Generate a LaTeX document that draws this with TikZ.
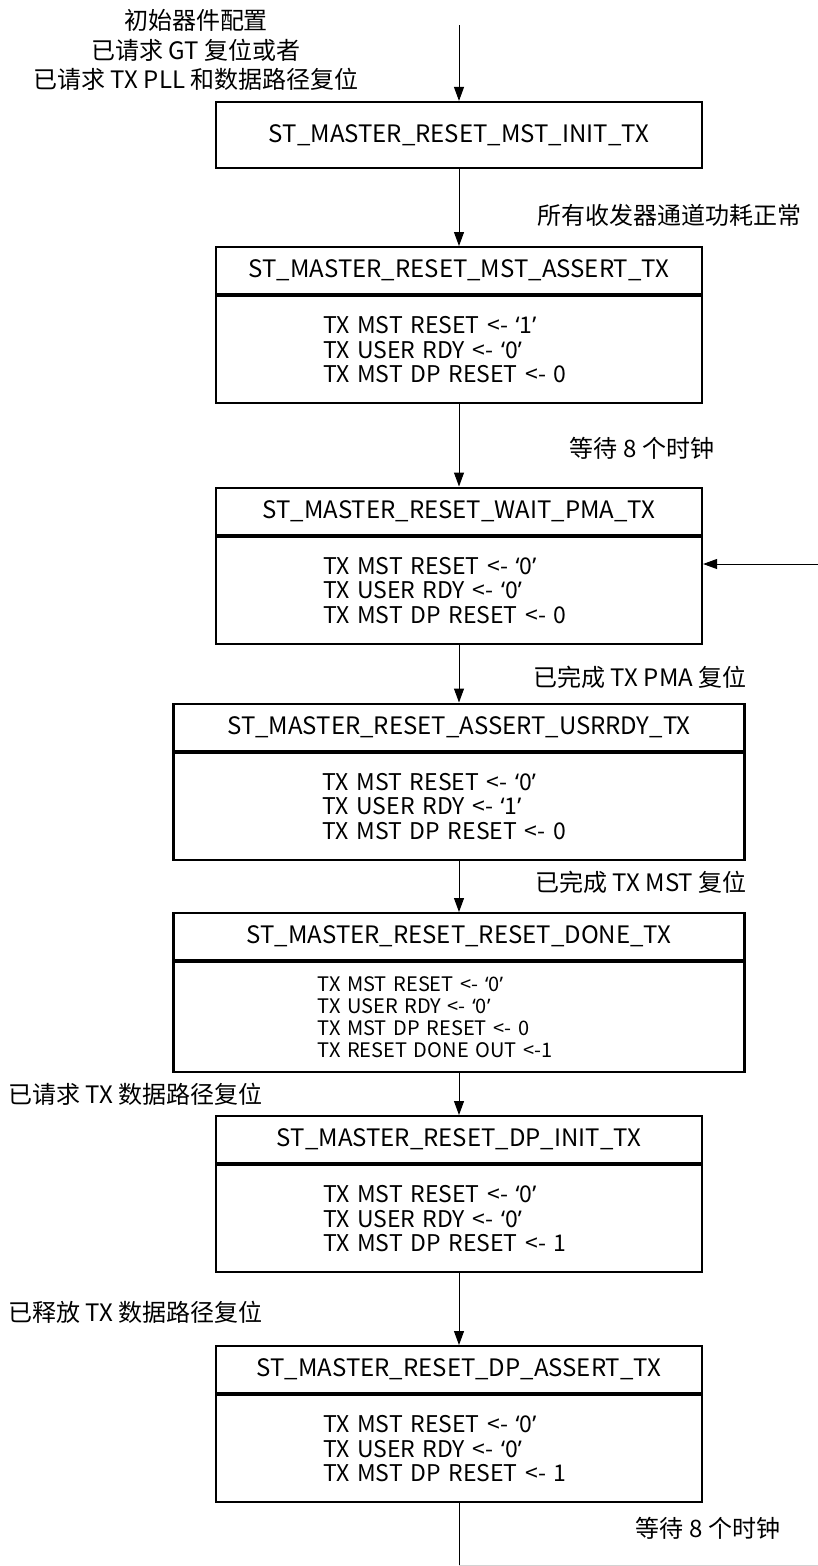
\documentclass[tikz,border=0pt]{standalone}
\usepackage{fontspec}
\setmainfont{Noto Sans CJK SC}
\newfontfamily\qfont{Noto Sans}
\usetikzlibrary{arrows.meta,positioning}
\newcommand\lsq{{\qfont\symbol{"2018}}}
\newcommand\rsq{{\qfont\symbol{"2019}}}

\tikzset{
  hdr/.style={draw, line width=2.2pt, minimum width=486pt, minimum height=47pt,
    inner sep=0pt, font=\fontsize{24}{28}\selectfont},
  bdy/.style={draw, line width=2.2pt, minimum height=107pt, inner ysep=0pt,
    inner xsep=107pt, text width=272pt, align=left, font=\fontsize{23}{24.5}\selectfont},
  widehdr/.style={hdr, minimum width=571pt},
  widebdy/.style={bdy, inner xsep=149pt, text width=273pt},
  donebdy/.style={bdy, inner xsep=144pt, text width=283pt, minimum height=110pt,
    font=\fontsize{20}{22}\selectfont},
  lbl/.style={font=\fontsize{24}{29.5}\selectfont, inner sep=0pt},
  flow/.style={-{Triangle[length=14pt,width=10pt]}, line width=1pt}
}

\begin{document}
\begin{tikzpicture}[x=1pt, y=-1pt]
    \useasboundingbox (0,0) rectangle (818,1566);

    % states
    \node[hdr, minimum height=66pt] (init) at (459,135) {ST\_MASTER\_RESET\_MST\_INIT\_TX};

    \node[hdr, anchor=north] (mst) at (459,246) {ST\_MASTER\_RESET\_MST\_ASSERT\_TX};
    \node[bdy, below=0pt of mst] (mstb) {TX MST RESET <- \lsq1\rsq\\TX USER RDY <- \lsq0\rsq\\TX MST DP RESET <- 0};

    \node[hdr, anchor=north] (pma) at (459,486.5) {ST\_MASTER\_RESET\_WAIT\_PMA\_TX};
    \node[bdy, below=0pt of pma] (pmab) {TX MST RESET <- \lsq0\rsq\\TX USER RDY <- \lsq0\rsq\\TX MST DP RESET <- 0};

    \node[widehdr, anchor=north] (usr) at (459,702.5) {ST\_MASTER\_RESET\_ASSERT\_USRRDY\_TX};
    \node[widebdy, below=0pt of usr] (usrb) {TX MST RESET <- \lsq0\rsq\\TX USER RDY <- \lsq1\rsq\\TX MST DP RESET <- 0};

    \node[widehdr, anchor=north] (done) at (459,912) {ST\_MASTER\_RESET\_RESET\_DONE\_TX};
    \node[donebdy, below=0pt of done] (doneb) {TX MST RESET <- \lsq0\rsq\\TX USER RDY <- \lsq0\rsq\\TX MST DP RESET <- 0\\TX RESET DONE OUT <-1};

    \node[hdr, anchor=north] (dpi) at (459,1115) {ST\_MASTER\_RESET\_DP\_INIT\_TX};
    \node[bdy, below=0pt of dpi] (dpib) {TX MST RESET <- \lsq0\rsq\\TX USER RDY <- \lsq0\rsq\\TX MST DP RESET <- 1};

    \node[hdr, anchor=north] (dpa) at (459,1345) {ST\_MASTER\_RESET\_DP\_ASSERT\_TX};
    \node[bdy, below=0pt of dpa] (dpab) {TX MST RESET <- \lsq0\rsq\\TX USER RDY <- \lsq0\rsq\\TX MST DP RESET <- 1};

    % conditions
    \node[lbl, align=center] (cfg) at (196,50) {初始器件配置\\已请求 GT 复位或者\\已请求 TX PLL 和数据路径复位};
    \node[lbl] (pwr) at (669,215) {所有收发器通道功耗正常};
    \node[lbl] (waita) at (642,448) {等待 8 个时钟};
    \node[lbl] (pmadone) at (640,677) {已完成 TX PMA 复位};
    \node[lbl] (mstdone) at (641,882) {已完成 TX MST 复位};
    \node[lbl, anchor=west] (dpreq) at (8,1094) {已请求 TX 数据路径复位};
    \node[lbl, anchor=west] (dprel) at (8,1312) {已释放 TX 数据路径复位};
    \node[lbl] (waitb) at (708,1528) {等待 8 个时钟};

    % transitions
    \coordinate (entry) at (459,25);
    \coordinate (back) at (818,564);
    \coordinate (exit) at (459,1566);
    \draw[flow] (entry) -- (init);
    \draw[flow] (init) -- (mst);
    \draw[flow] (mstb) -- (pma);
    \draw[flow] (pmab) -- (usr);
    \draw[flow] (usrb) -- (done);
    \draw[flow] (doneb) -- (dpi);
    \draw[flow] (dpib) -- (dpa);
    \draw[flow] (back) -- (back -| pmab.east);
    \draw[line width=1pt] (dpab) -- (exit);
    \draw[gray!35, line width=1pt] (459,1565.5) -- (818,1565.5);
\end{tikzpicture}
\end{document}
